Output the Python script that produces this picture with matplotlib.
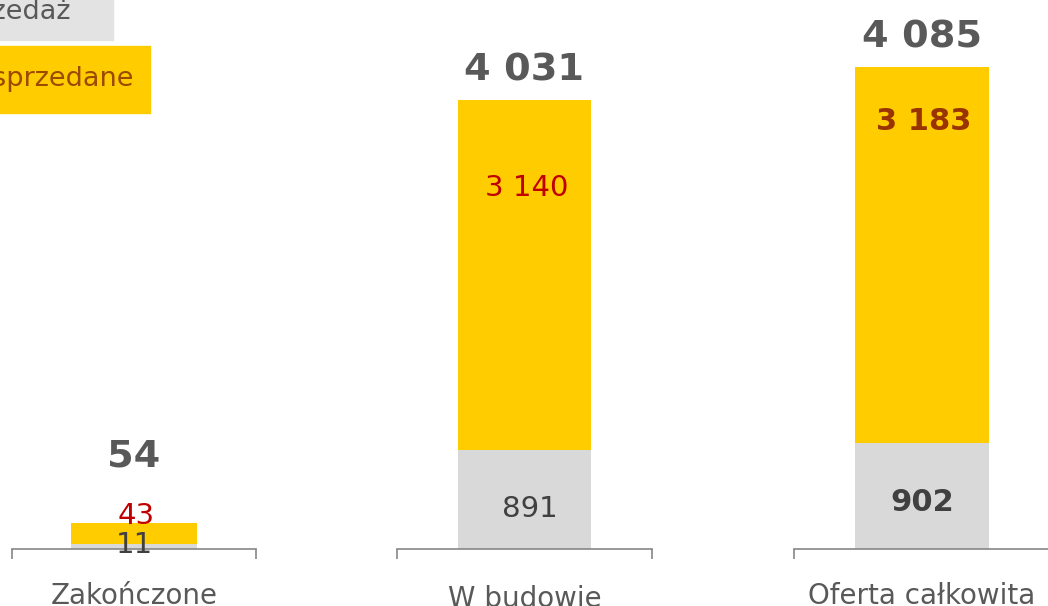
import matplotlib
matplotlib.use("Agg")
import matplotlib.pyplot as plt
from matplotlib.patches import Rectangle

plt.rcParams['font.family'] = ['DejaVu Sans']

# data
categories = ['Zakończone', 'W budowie', 'Oferta całkowita']
unsold = [11, 891, 902]          # grey part
sold = [43, 3140, 3183]          # yellow part
totals = [54, 4031, 4085]
total_labels = ['54', '4 031', '4 085']
sold_labels = ['43', '3 140', '3 183']
unsold_labels = ['11', '891', '902']
legend_labels = ['Sprzedaż', 'Lokale sprzedane']

# layout (pixels)
W, H = 1048, 606
base_y = 549
axes_x = [(12, 256), (397, 652), (794, 1050)]
ymax = [1140, 4928, 4652]
total_off = [56, 19, 19]          # baseline above bar top
sold_off = [-1, -96, -63]         # baseline relative to bar top
unsold_off = [-4, 32, 38]         # baseline relative to axis
cat_off = [-55, -58, -55]
sold_colors = ['#C00000', '#C00000', '#993300']
sold_weight = ['normal', 'normal', 'bold']
unsold_weight = ['normal', 'normal', 'bold']

YELLOW = '#FFCC00'
GREY = '#D9D9D9'
AXIS = '#868686'

fig = plt.figure(figsize=(W / 100, H / 100), dpi=100)

for i, (x0, x1) in enumerate(axes_x):
  ax = fig.add_axes([x0 / W, (H - base_y) / H, (x1 - x0) / W, base_y / H])
  ax.set_xlim(-0.5, 0.5)
  ax.set_ylim(0, ymax[i])
  ax.bar(0, unsold[i], width=0.52, color=GREY)
  ax.bar(0, sold[i], width=0.52, bottom=unsold[i], color=YELLOW)

  for s in ['top', 'left', 'right']:
    ax.spines[s].set_visible(False)
  ax.spines['bottom'].set_color(AXIS)
  ax.spines['bottom'].set_linewidth(1.2)
  ax.spines['bottom'].set_clip_on(False)
  ax.set_yticks([])
  ax.set_xticks([-0.5, 0.5])
  ax.set_xticklabels([])
  ax.tick_params(axis='x', direction='out', length=7.5, width=1.2, color=AXIS)
  ax.patch.set_visible(False)

  top = totals[i]
  ax.annotate(total_labels[i], xy=(0, top), xytext=(0, total_off[i]),
              textcoords='offset pixels', ha='center', va='baseline',
              fontsize=27.5, fontweight='bold', color='#595959', annotation_clip=False)
  ax.annotate(sold_labels[i], xy=(0, top), xytext=(2, sold_off[i]),
              textcoords='offset pixels', ha='center', va='baseline',
              fontsize=21 if i < 2 else 22, fontweight=sold_weight[i],
              color=sold_colors[i], annotation_clip=False)
  ax.annotate(unsold_labels[i], xy=(0, 0), xytext=(5 if i == 1 else 0, unsold_off[i]),
              textcoords='offset pixels', ha='center', va='baseline',
              fontsize=21 if i < 2 else 22, fontweight=unsold_weight[i],
              color='#404040', annotation_clip=False)
  ax.annotate(categories[i], xy=(0, 0), xytext=(0, cat_off[i]),
              textcoords='offset pixels', ha='center', va='baseline',
              fontsize=20, color='#595959', annotation_clip=False)

# legend boxes, partly off the canvas like the original
def px_rect(x0, y0, x1, y1, color):
  fig.add_artist(Rectangle((x0 / W, (H - y1) / H), (x1 - x0) / W, (y1 - y0) / H,
                           transform=fig.transFigure, color=color, zorder=0))

px_rect(-10, -10, 113, 40, '#E3E3E3')
px_rect(-10, 46, 150, 113, YELLOW)
fig.text(71 / W, (H - 19) / H, legend_labels[0], ha='right', va='baseline',
         fontsize=19.5, color='#595959')
fig.text(134 / W, (H - 86) / H, legend_labels[1], ha='right', va='baseline',
         fontsize=19.5, color='#9C4A00')

fig.savefig('out.png', dpi=100)
